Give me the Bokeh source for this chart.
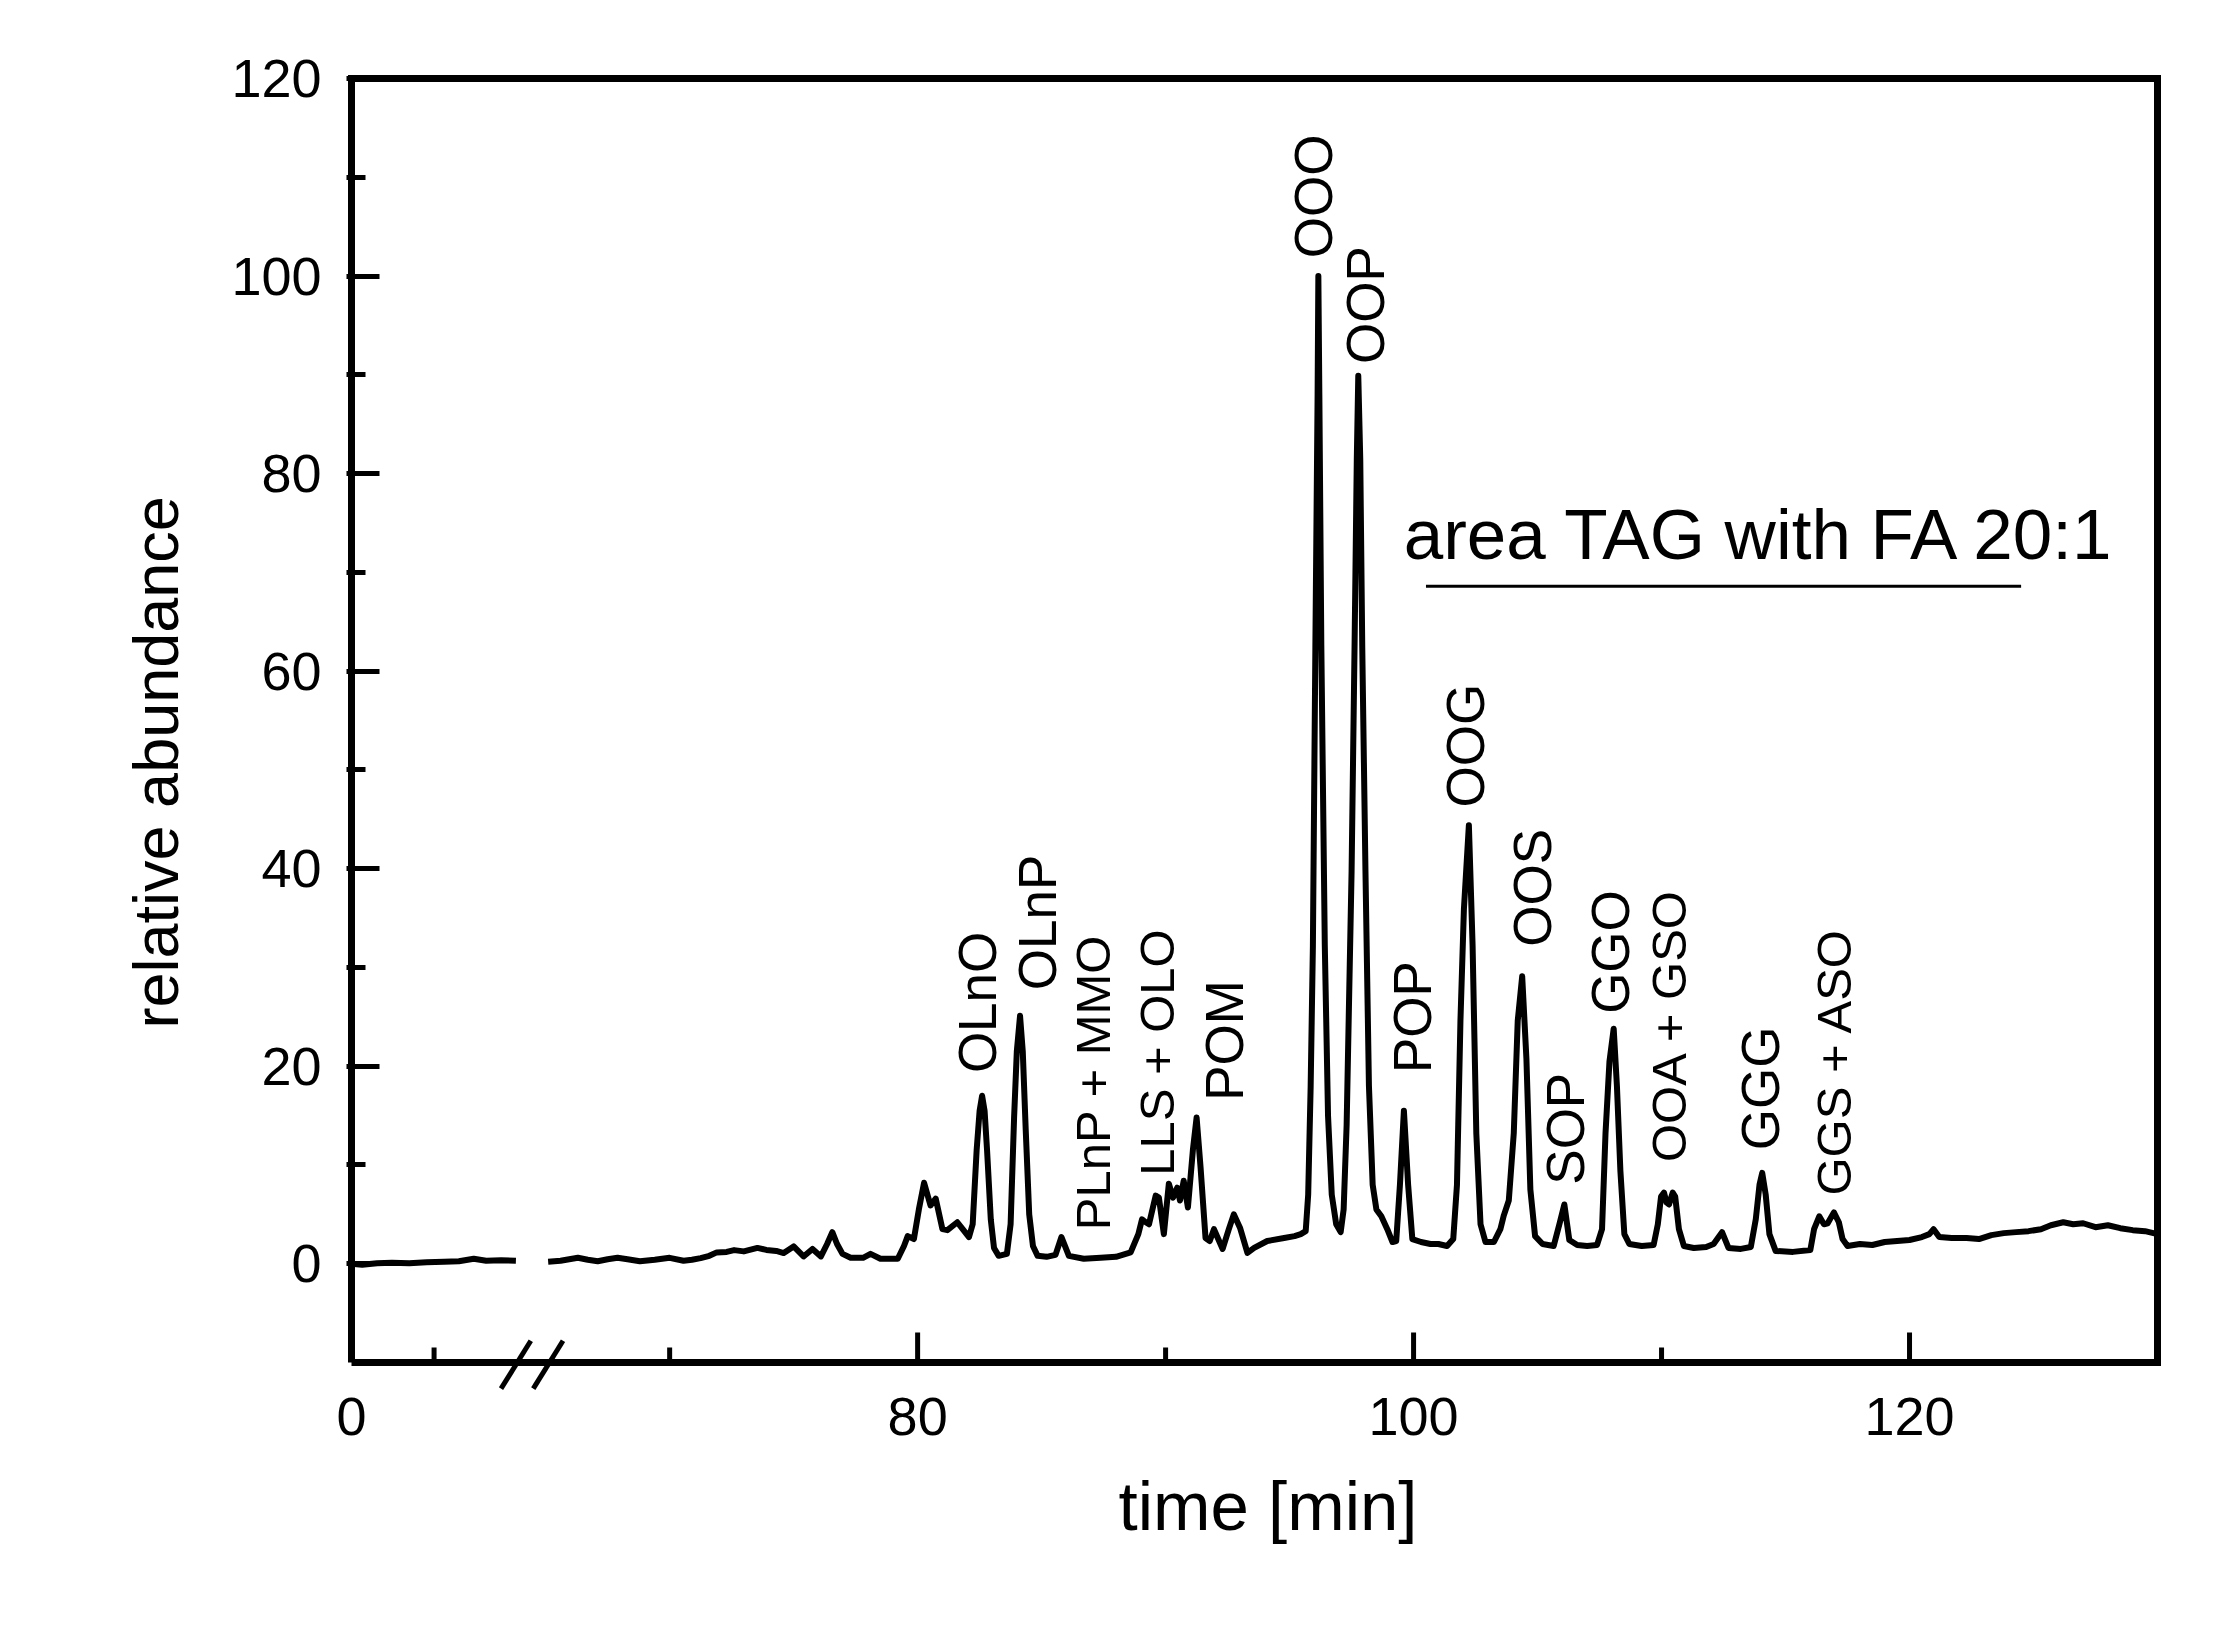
import math
from bokeh.plotting import figure
from bokeh.models import Range1d, FixedTicker, Label, ColumnDataSource, Title
from bokeh.core.properties import value
from bokeh.embed import file_html
from bokeh.resources import INLINE

# ---- data (time [min], relative abundance) ----
# segment before the axis break
pre_time = [57.17, 57.6, 58.2, 58.8, 59.5, 60.2, 60.9, 61.5, 62.1, 62.6, 63.2, 63.8]
pre_abund = [0.0, -0.1, 0.05, 0.1, 0.05, 0.15, 0.2, 0.25, 0.5, 0.3, 0.35, 0.3]

# main trace after the break
time = [
    65.1, 65.6, 66.3, 66.7, 67.1, 67.5, 67.9, 68.3, 68.8, 69.4, 70.0, 70.56, 70.9, 71.25, 71.6,
    71.9, 72.3, 72.6, 72.99, 73.54, 73.9, 74.3, 74.6, 75.0, 75.4, 75.76, 76.1, 76.35, 76.56,
    76.75, 76.97, 77.3, 77.8, 78.1, 78.5, 79.2, 79.45, 79.6, 79.85, 80.05, 80.26, 80.52, 80.73,
    81.0, 81.2, 81.6, 81.85, 82.07, 82.22, 82.38, 82.5, 82.6, 82.7, 82.8, 82.95, 83.08, 83.27,
    83.6, 83.75, 83.89, 84.0, 84.13, 84.24, 84.36, 84.5, 84.65, 84.84, 85.2, 85.56, 85.8, 86.1,
    86.7, 87.38, 88.0, 88.59, 88.9, 89.05, 89.2, 89.33, 89.6, 89.73, 89.93, 90.13, 90.3, 90.47,
    90.58, 90.73, 90.9, 91.1, 91.25, 91.41, 91.61, 91.78, 91.95, 92.3, 92.55, 92.75, 93.0, 93.3,
    93.57, 94.1, 94.78, 95.2, 95.45, 95.65,
    95.75, 95.85, 95.94, 96.04, 96.13, 96.16, 96.2, 96.28, 96.42, 96.55, 96.7, 96.88, 97.06,
    97.18, 97.3, 97.5, 97.62, 97.71, 97.77, 97.85, 97.93, 98.06, 98.2, 98.35, 98.5, 98.7, 98.94,
    99.15, 99.3,
    99.45, 99.61, 99.78, 99.95, 100.3, 100.68, 101.0, 101.35, 101.6, 101.75, 101.89, 102.03,
    102.23, 102.38, 102.53, 102.7, 102.9, 103.24, 103.5, 103.64, 103.84, 104.04, 104.2, 104.38,
    104.55, 104.71, 104.9, 105.2, 105.65, 105.89, 106.08, 106.28, 106.6, 107.0, 107.4, 107.6,
    107.74, 107.9, 108.07, 108.2, 108.34, 108.5, 108.7, 109.2, 109.68, 109.85, 109.98, 110.1,
    110.2, 110.3, 110.45, 110.55, 110.7, 110.9, 111.3, 111.8, 112.1, 112.44, 112.7, 113.2,
    113.6, 113.8, 113.95, 114.06, 114.2, 114.35, 114.6, 115.3, 116.0, 116.15, 116.36, 116.55,
    116.7, 116.95, 117.15, 117.3, 117.5, 118.0, 118.5, 119.0, 119.5, 120.0, 120.5, 120.8,
    120.97, 121.2, 121.7, 122.3, 122.8, 123.3, 123.8, 124.3, 124.8, 125.3, 125.7, 126.2, 126.6,
    127.0, 127.5, 128.0, 128.5, 129.0, 129.5, 130.0,
]
abundance = [
    0.2, 0.3, 0.6, 0.4, 0.25, 0.45, 0.6, 0.45, 0.25, 0.4, 0.6, 0.3, 0.4, 0.57, 0.8,
    1.15, 1.2, 1.38, 1.25, 1.6, 1.4, 1.3, 1.08, 1.75, 0.74, 1.5, 0.74, 2.0, 3.2,
    2.0, 1.0, 0.6, 0.6, 1.0, 0.5, 0.5, 1.8, 2.8, 2.5, 5.5, 8.2, 5.9, 6.6,
    3.5, 3.4, 4.2, 3.4, 2.7, 4.0, 11.5, 15.5, 17.0, 15.5, 11.5, 4.5, 1.6, 0.8,
    1.0, 4.0, 14.8, 21.5, 25.1, 21.5, 13.5, 5.0, 1.8, 0.8, 0.7, 0.9, 2.7, 0.8,
    0.5, 0.6, 0.7, 1.15, 3.0, 4.5, 4.2, 4.0, 6.9, 6.7, 3.0, 8.1, 6.7, 7.7,
    6.4, 8.4, 5.7, 11.5, 14.8, 9.75, 2.6, 2.3, 3.5, 1.5, 3.5, 5.0, 3.65, 1.1,
    1.6, 2.3, 2.6, 2.8, 3.0, 3.3,
    7.0, 18.0, 32.2, 62.5, 88.0, 100.0, 88.0, 62.5, 32.2, 15.0, 7.0, 4.0, 3.2,
    5.5, 14.0, 39.7, 62.5, 81.4, 89.9, 81.4, 62.5, 39.7, 18.0, 8.0, 5.5, 4.8, 3.5,
    2.2, 2.3,
    8.0, 15.5, 8.0, 2.5, 2.2, 2.0, 2.0, 1.8, 2.5, 8.0, 24.6, 35.9,
    44.4, 32.2, 13.2, 4.0, 2.2, 2.2, 3.5, 4.9, 6.4, 13.2, 24.6, 29.1,
    20.8, 7.5, 2.8, 2.0, 1.8, 4.1, 6.0, 2.4, 1.9, 1.8, 1.9, 3.5,
    13.2, 20.5, 23.8, 18.0, 9.4, 3.0, 2.0, 1.8, 1.9, 4.0, 6.8, 7.2,
    6.2, 6.0, 7.2, 6.8, 3.5, 1.8, 1.6, 1.7, 2.0, 3.2, 1.6, 1.5,
    1.7, 4.5, 8.0, 9.2, 7.0, 3.0, 1.3, 1.2, 1.4, 3.5, 4.8, 4.0,
    4.1, 5.2, 4.2, 2.5, 1.8, 2.0, 1.9, 2.2, 2.3, 2.4, 2.7, 3.0,
    3.5, 2.7, 2.6, 2.6, 2.5, 2.9, 3.1, 3.2, 3.3, 3.5, 3.9, 4.2, 4.0,
    4.1, 3.7, 3.9, 3.6, 3.4, 3.3, 3.0,
]

# peak annotations (names) and where their text starts
big_names = ["OLnO", "OLnP", "POM", "OOO", "OOP", "POP", "OOG", "OOS", "SOP", "GGO", "GGG"]
big_t = [82.40, 84.84, 92.38, 95.97, 98.06, 99.95, 102.10, 104.79, 106.13, 107.94, 113.99]
big_v = [19.3, 27.7, 16.5, 101.8, 91.1, 19.3, 46.2, 32.1, 8.0, 25.3, 11.5]

small_names = ["PLnP + MMO", "LLS + OLO", "OOA + GSO", "GGS + ASO"]
small_t = [87.06, 89.64, 110.32, 116.94]
small_v = [3.4, 8.9, 10.3, 6.9]

# axes: shown box is time 57.17..130 (left end labelled "0" because of the axis break)
x_lo, x_hi = 57.17, 130.0
y_lo, y_hi = -10.0, 120.0
y_major = [0, 20, 40, 60, 80, 100, 120]
y_minor = [10, 30, 50, 70, 90, 110]
x_major = [57.17, 80, 100, 120]
x_minor = [60.5, 70, 90, 110]
x_labels = {57.17: "0", 80: "80", 100: "100", 120: "120"}

# axis-break marks (time, abundance end points)
break_x0 = [63.2, 64.5]
break_x1 = [64.4, 65.7]
break_y0 = [-12.65, -12.65]
break_y1 = [-7.8, -7.8]

area_text = "area TAG with FA 20:1"
area_start, area_end, area_level = 100.5, 124.5, 68.6

FONT = "Liberation Sans"
PX_X = 24.8   # pixels per minute
PX_Y = 9.88   # pixels per abundance unit

# frame slightly larger than the drawn box so the break marks can cross the bottom axis
p = figure(width=2197, height=1609, output_backend="svg", toolbar_location=None,
           x_range=Range1d(x_lo - 5 / PX_X, x_hi + 5 / PX_X),
           y_range=Range1d(y_lo - 35 / PX_Y, y_hi + 5 / PX_Y),
           min_border_left=346, min_border_right=35, min_border_top=73, min_border_bottom=212)
p.background_fill_color = "white"
p.border_fill_color = "white"
p.grid.visible = False
p.outline_line_color = None

# drawn axis box
p.line([x_lo, x_lo, x_hi, x_hi, x_lo], [y_lo, y_hi, y_hi, y_lo, y_lo],
       line_color="black", line_width=7, line_join="miter")

# y axis: ticks and labels from Bokeh (axis line drawn above)
ya = p.yaxis[0]
ya.ticker = FixedTicker(ticks=y_major, minor_ticks=y_minor)
ya.axis_line_color = None
ya.major_tick_out = 0
ya.minor_tick_out = 0
ya.major_tick_in = 33
ya.minor_tick_in = 19
ya.major_tick_line_width = 5
ya.minor_tick_line_width = 5
ya.major_tick_line_color = "black"
ya.minor_tick_line_color = "black"
ya.major_label_text_font = FONT
ya.major_label_text_font_size = "54px"
ya.major_label_text_color = "black"
ya.major_label_standoff = 25

# x axis: only the labels from Bokeh, tick marks drawn on the box edge
xa = p.xaxis[0]
xa.ticker = FixedTicker(ticks=x_major, minor_ticks=x_minor)
xa.major_label_overrides = x_labels
xa.axis_line_color = None
xa.major_tick_line_color = None
xa.minor_tick_line_color = None
xa.major_tick_in = 0
xa.major_tick_out = 0
xa.minor_tick_in = 0
xa.minor_tick_out = 0
xa.major_label_text_font = FONT
xa.major_label_text_font_size = "54px"
xa.major_label_text_color = "black"
xa.major_label_standoff = 0

maj = [t for t in x_major if t > x_lo]
p.segment(x0=maj, y0=[y_lo] * len(maj), x1=maj, y1=[y_lo + 30 / PX_Y] * len(maj),
          line_color="black", line_width=5)
p.segment(x0=x_minor, y0=[y_lo] * len(x_minor), x1=x_minor,
          y1=[y_lo + 15 / PX_Y] * len(x_minor), line_color="black", line_width=5)

# axis titles as side titles
p.add_layout(Title(text="time [min]", align="left", offset=772, standoff=57,
                   text_font=FONT, text_font_size="69px", text_font_style="normal",
                   text_color="black"), "below")
p.add_layout(Title(text="relative abundance", align="left", offset=369, standoff=75,
                   text_font=FONT, text_font_size="63px", text_font_style="normal",
                   text_color="black"), "left")

# chromatogram trace
p.line(pre_time, pre_abund, line_color="black", line_width=6, line_join="round")
p.line(time, abundance, line_color="black", line_width=6, line_join="round")

# axis break marks
p.segment(x0=break_x0, y0=break_y0, x1=break_x1, y1=break_y1, line_color="black", line_width=5)

# peak labels
src_big = ColumnDataSource(dict(x=big_t, y=big_v, text=big_names))
p.text(x="x", y="y", text="text", source=src_big, angle=math.pi / 2,
       text_align="left", text_baseline="middle", text_font=value(FONT),
       text_font_size="53px", text_color="black")
src_small = ColumnDataSource(dict(x=small_t, y=small_v, text=small_names))
p.text(x="x", y="y", text="text", source=src_small, angle=math.pi / 2,
       text_align="left", text_baseline="middle", text_font=value(FONT),
       text_font_size="49px", text_color="black")

# area annotation
p.segment(x0=[area_start], y0=[area_level], x1=[area_end], y1=[area_level],
          line_color="black", line_width=3)
p.add_layout(Label(x=99.6, y=73.8, text=area_text, text_font=FONT, text_font_size="71px",
                   text_baseline="alphabetic", text_align="left", text_color="black"))

open("out.html", "w").write(file_html(p, INLINE))
